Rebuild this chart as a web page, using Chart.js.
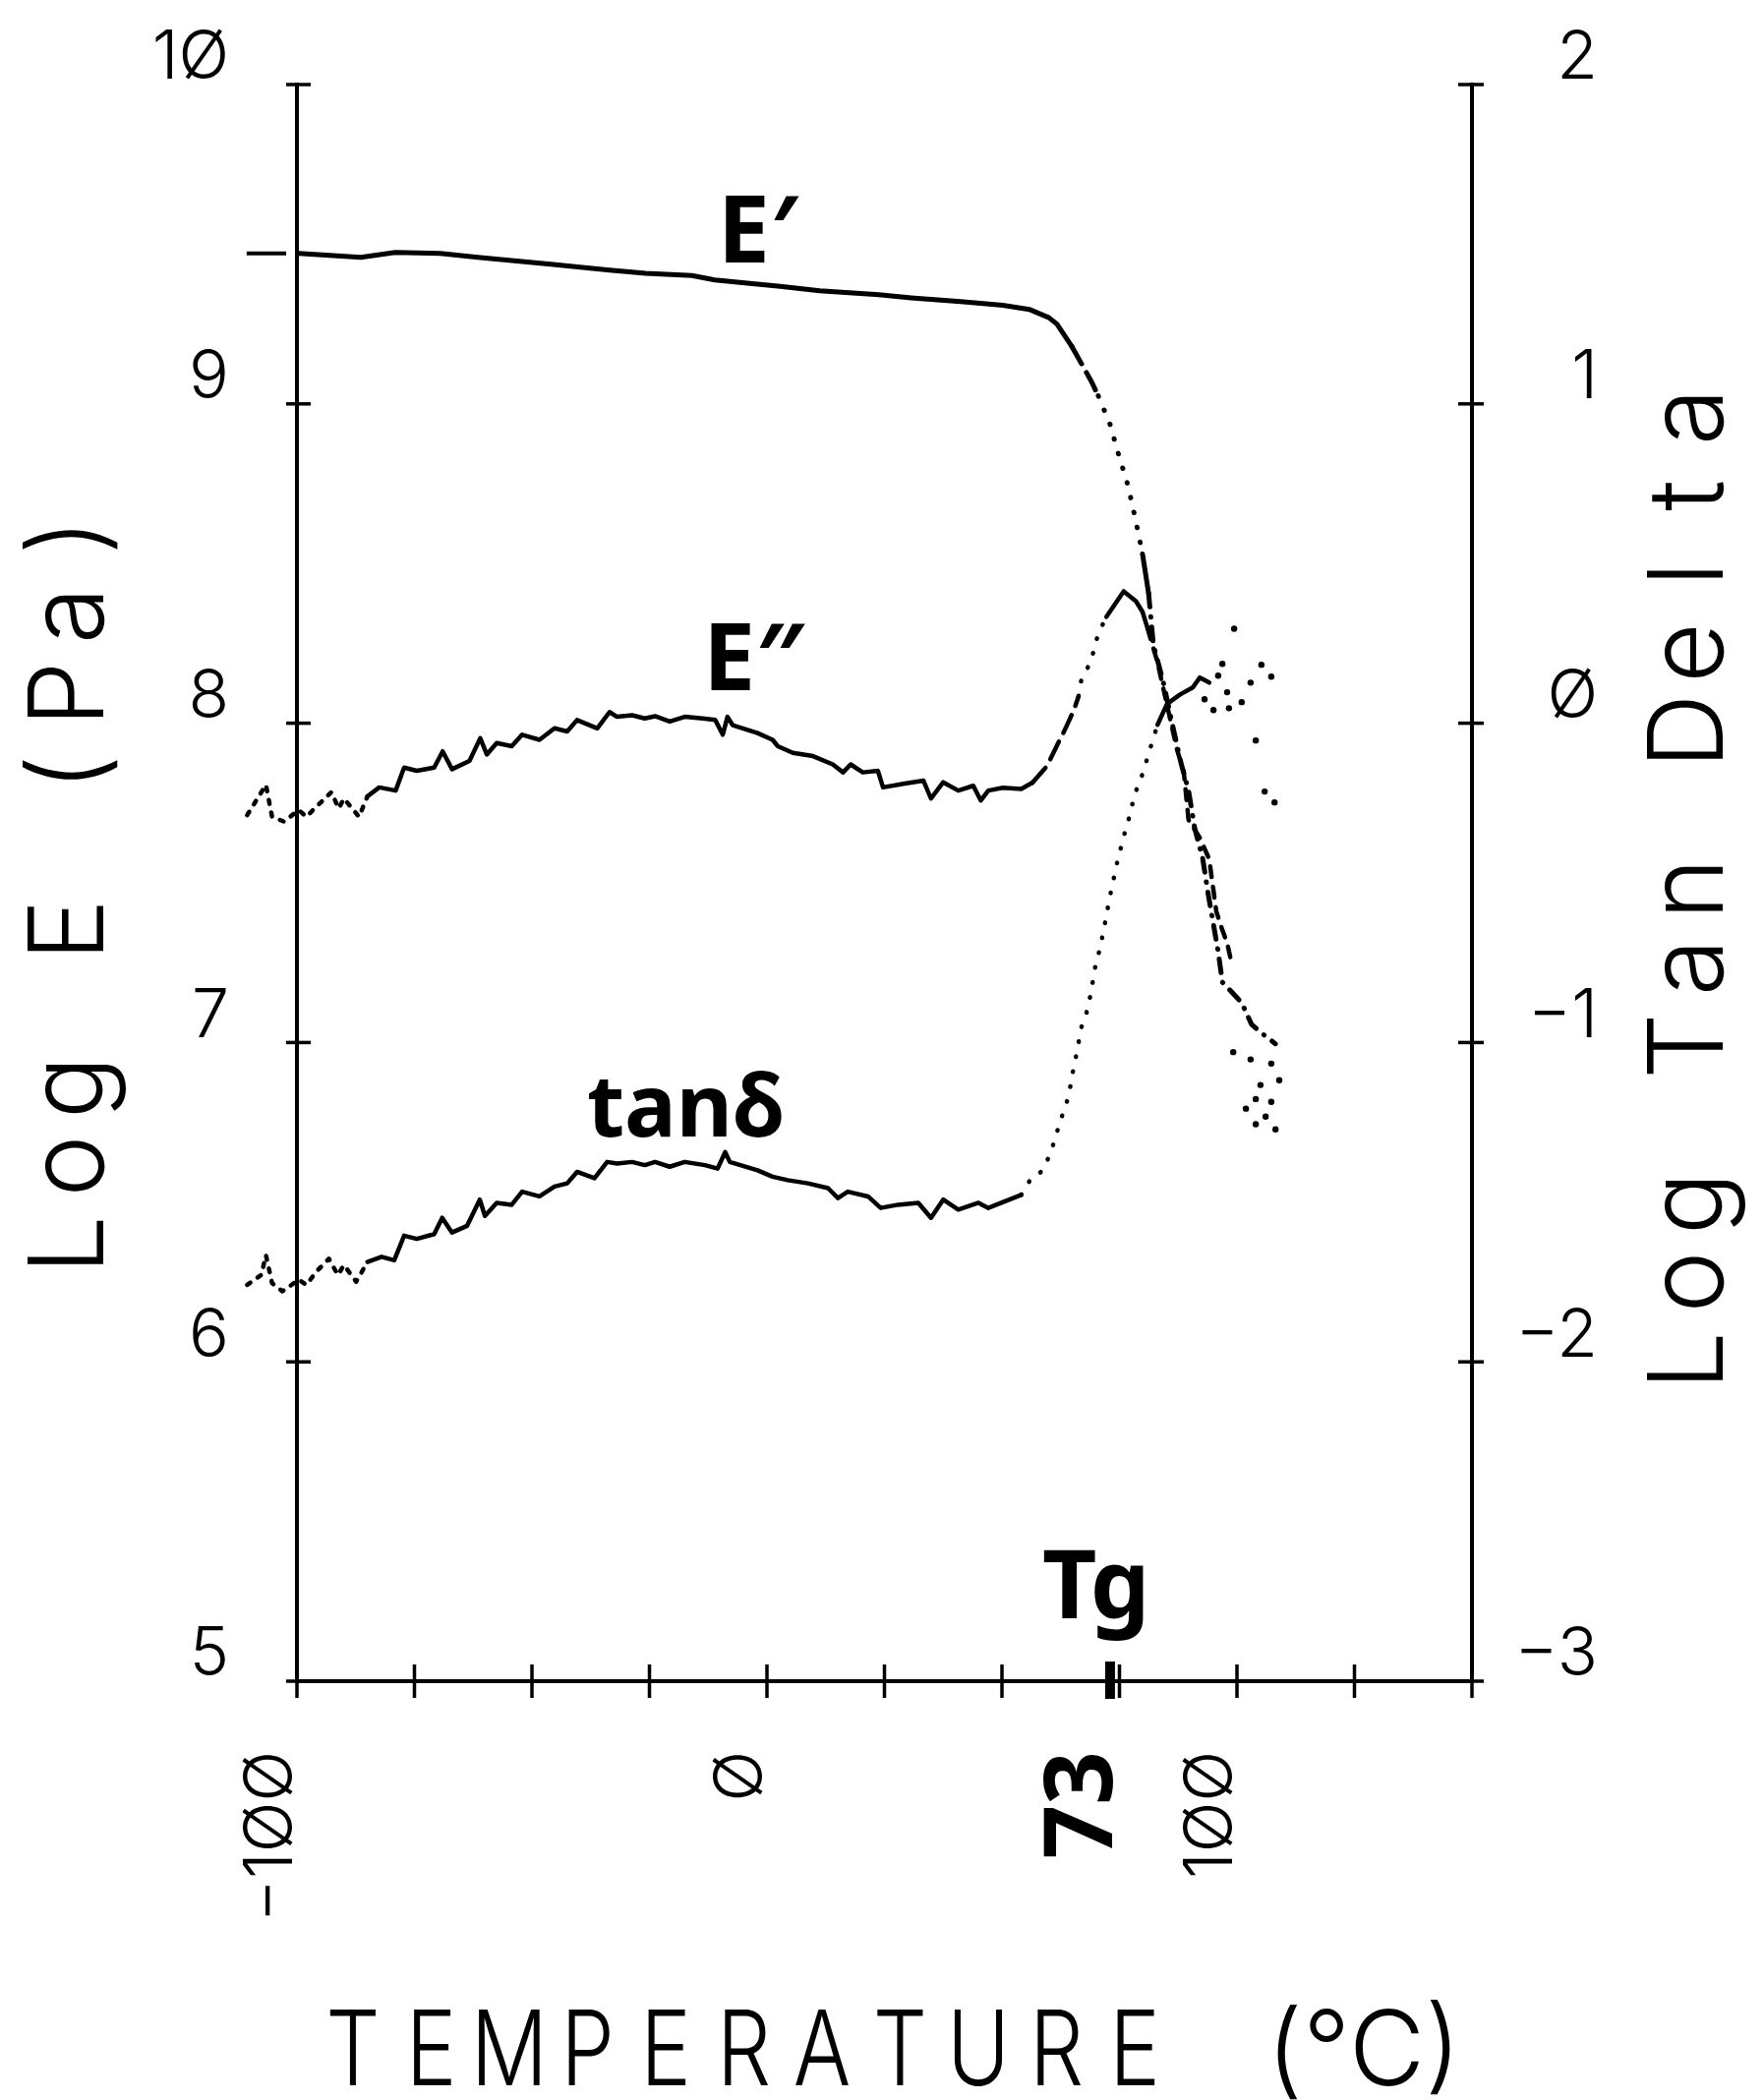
<!DOCTYPE html>
<html>
<head>
<meta charset="utf-8">
<script src="https://cdn.jsdelivr.net/npm/chart.js@4.4.1/dist/chart.umd.min.js"></script>
<style>
html,body{margin:0;padding:0;background:#fff;}
canvas{display:block;}
</style>
</head>
<body>
<canvas id="c" width="1794" height="2136"></canvas>
<script>
// ---------------- data ----------------
const xTickValues = [-100, -75, -50, -25, 0, 25, 50, 73, 75, 100, 125, 150];
const xTickLabels = {'-100': '−1ØØ', '0': 'Ø', '73': '73', '100': '1ØØ'};
const leftTickLabels = {'5': '5', '6': '6', '7': '7', '8': '8', '9': '9', '10': '1Ø'};
const rightTickLabels = {'-3': '−3', '-2': '−2', '-1': '−1', '0': 'Ø', '1': '1', '2': '2'};
const tgValue = 73;

// E' (log E', Pa)
const ePrimeT = [-99.6, -86.4, -79.1, -69.5, -61.5, -46.0, -33.5, -25.8, -16.0, -11.1, -4.2, 2.8, 11.2, 23.8, 30.7, 41.2, 50.2, 55.8, 60.0, 61.7, 64.9, 69.0, 70.5, 73.0, 74.7, 76.8, 78.5, 79.9, 81.2, 82.2, 84.3, 86.2, 88.1, 89.7, 91.0, 92.7, 93.9, 96.0, 96.9, 101.0, 103.1, 105.2, 108.2];
const ePrimeLogE = [9.471, 9.459, 9.474, 9.471, 9.459, 9.437, 9.419, 9.409, 9.402, 9.388, 9.378, 9.368, 9.354, 9.342, 9.332, 9.320, 9.309, 9.296, 9.270, 9.250, 9.179, 9.071, 9.025, 8.936, 8.847, 8.745, 8.632, 8.530, 8.407, 8.247, 8.130, 8.000, 7.875, 7.789, 7.672, 7.577, 7.463, 7.285, 7.189, 7.125, 7.057, 7.030, 6.996];
// short start marker left of the axis
const ePrimeMarkT = [-110.7, -102.3];
const ePrimeMarkLogE = [9.471, 9.471];

// E'' (log E'', Pa)
const eDoublePrimeT = [-110.6, -106.6, -105.3, -102.8, -99.6, -98.0, -95.9, -92.7, -91.1, -90.0, -86.8, -85.0, -82.5, -79.0, -77.2, -74.5, -70.8, -69.0, -67.0, -63.3, -61.0, -59.6, -57.5, -54.3, -52.1, -48.4, -45.2, -42.5, -40.4, -36.1, -33.5, -31.9, -28.7, -26.0, -23.8, -20.7, -17.5, -13.7, -11.0, -9.4, -8.4, -7.3, -2.0, 1.2, 2.3, 5.5, 9.8, 14.0, 16.2, 17.8, 20.4, 23.6, 24.7, 29.0, 33.3, 34.9, 37.5, 40.7, 43.9, 45.5, 47.1, 50.2, 54.1, 56.5, 59.6, 61.1, 63.4, 65.3, 66.3, 66.9, 69.0, 69.9, 70.9, 72.2, 75.9, 78.5, 79.9, 81.0, 83.1, 87.2, 88.7, 89.7, 92.1, 94.1, 95.6, 96.9, 97.9, 99.0];
const eDoublePrimeLogE = [7.712, 7.807, 7.707, 7.692, 7.728, 7.707, 7.738, 7.784, 7.733, 7.764, 7.707, 7.771, 7.799, 7.789, 7.861, 7.851, 7.861, 7.912, 7.856, 7.882, 7.953, 7.902, 7.938, 7.928, 7.964, 7.948, 7.984, 7.974, 8.010, 7.984, 8.035, 8.020, 8.025, 8.015, 8.022, 8.005, 8.020, 8.015, 8.010, 7.964, 8.020, 7.994, 7.969, 7.948, 7.928, 7.907, 7.897, 7.871, 7.846, 7.871, 7.846, 7.851, 7.799, 7.810, 7.820, 7.764, 7.815, 7.789, 7.804, 7.758, 7.789, 7.798, 7.794, 7.814, 7.866, 7.912, 7.980, 8.041, 8.084, 8.137, 8.195, 8.253, 8.293, 8.333, 8.413, 8.382, 8.349, 8.296, 8.190, 7.920, 7.845, 7.697, 7.641, 7.574, 7.411, 7.352, 7.312, 7.239];
// scattered end of E''
const eDoublePrimeTailT = [99.2, 101.9, 102.9, 104.0, 104.0, 105.0, 106.1, 107.3, 107.3, 108.2, 109.0];
const eDoublePrimeTailLogE = [6.970, 6.793, 6.947, 6.823, 6.744, 6.867, 6.768, 6.934, 6.814, 6.728, 6.882];

// log tan delta (right axis)
const tanDeltaT = [-110.6, -107.6, -106.6, -105.3, -103.1, -99.6, -98.0, -95.9, -93.2, -91.3, -90.0, -87.4, -85.0, -82.0, -79.3, -77.2, -74.5, -70.8, -69.1, -67.0, -63.8, -61.1, -60.0, -57.5, -54.3, -52.1, -48.4, -45.2, -42.5, -40.4, -36.7, -34.0, -31.9, -28.7, -26.0, -23.8, -20.7, -17.5, -13.2, -10.5, -8.9, -7.9, -2.0, 1.2, 4.4, 8.7, 13.0, 15.1, 17.2, 21.5, 24.2, 27.9, 32.2, 34.9, 37.5, 40.7, 45.0, 47.1, 54.1, 56.3, 57.5, 59.0, 61.1, 62.3, 63.4, 64.2, 64.9, 65.9, 66.9, 68.0, 68.8, 69.9, 70.9, 72.0, 72.8, 73.8, 74.7, 75.7, 76.6, 77.4, 78.0, 79.9, 82.0, 83.1, 85.1, 87.9, 90.6, 92.1, 94.1];
const tanDeltaLog = [-1.759, -1.728, -1.666, -1.753, -1.779, -1.743, -1.759, -1.718, -1.677, -1.728, -1.697, -1.749, -1.687, -1.671, -1.682, -1.605, -1.615, -1.600, -1.549, -1.595, -1.574, -1.492, -1.543, -1.502, -1.508, -1.467, -1.482, -1.451, -1.441, -1.405, -1.425, -1.374, -1.379, -1.374, -1.384, -1.374, -1.389, -1.374, -1.384, -1.395, -1.343, -1.374, -1.400, -1.420, -1.431, -1.441, -1.456, -1.487, -1.467, -1.482, -1.518, -1.508, -1.502, -1.549, -1.492, -1.523, -1.502, -1.518, -1.477, -1.423, -1.416, -1.395, -1.312, -1.250, -1.204, -1.167, -1.106, -1.032, -0.952, -0.906, -0.854, -0.758, -0.703, -0.620, -0.555, -0.485, -0.423, -0.368, -0.315, -0.282, -0.232, -0.159, -0.057, -0.005, 0.060, 0.090, 0.112, 0.143, 0.127];
// scattered peak / end of tan delta
const tanDeltaTailT = [93.1, 95.0, 96.0, 96.9, 97.9, 98.3, 99.4, 101.0, 102.9, 104.0, 105.2, 105.9, 107.3, 108.0];
const tanDeltaTailLog = [0.075, 0.041, 0.149, 0.186, 0.097, 0.047, 0.296, 0.066, 0.127, -0.054, 0.183, -0.214, 0.146, -0.248];

// ---------------- styles ----------------
const INK = '#000';
const plotFamily = 'Inter, Roboto, "DejaVu Sans", sans-serif';
const boldFamily = '"Noto Sans", "DejaVu Sans", sans-serif';
const tickFont = {family: plotFamily, size: 68, weight: '300'};
const tgTickFont = {family: boldFamily, size: 96, weight: 'bold'};

const SOLID = [], DASH = [20, 10], SHORTDASH = [11, 10], DOT = [0.5, 15], SPARSE = [4, 9], DASHDOT = [14, 10, 0.5, 10];

function rangeStyle(ranges) {
  return ctx => {
    const xm = (ctx.p0.parsed.x + ctx.p1.parsed.x) / 2;
    for (const r of ranges) { if (xm < r[0]) return r[1]; }
    return SOLID;
  };
}
const pts = (xs, ys) => xs.map((x, i) => ({x, y: ys[i]}));

const annotations = [
  {text: 'E′', t: -10.5, v: 9.443, size: 95},
  {text: 'E″', t: -13.6, v: 8.102, size: 95},
  {text: 'tanδ', t: -38.3, v: 6.705, size: 88},
  {text: 'Tg', t: 58.6, v: 5.197, size: 96}
];

function drawPitched(ctx, text, pitch, squeeze) {
  const n = text.length;
  for (let i = 0; i < n; i++) {
    const cx = (i - (n - 1) / 2) * pitch;
    ctx.save();
    ctx.translate(cx, 0);
    ctx.scale(squeeze, 1);
    ctx.textAlign = 'center';
    ctx.fillText(text[i], 0, 0);
    ctx.restore();
  }
}

const plotterPlugin = {
  id: 'plotter',
  afterDraw(chart) {
    const {ctx, chartArea: a} = chart;
    const x = chart.scales.x, y = chart.scales.y, y2 = chart.scales.y2;
    ctx.save();
    ctx.strokeStyle = INK; ctx.fillStyle = INK; ctx.lineCap = 'butt';
    const line = (x1, y1, x2, y2_) => { ctx.beginPath(); ctx.moveTo(x1, y1); ctx.lineTo(x2, y2_); ctx.stroke(); };
    // cross ticks on x axis
    ctx.lineWidth = 3.5;
    xTickValues.forEach(v => {
      if (v === tgValue) return;
      const px = x.getPixelForValue(v);
      line(px, a.bottom - 17, px, a.bottom + 17);
    });
    ctx.lineWidth = 10;
    const tg = x.getPixelForValue(tgValue);
    line(tg, a.bottom - 20, tg, a.bottom + 18);
    // cross ticks on y axes
    ctx.lineWidth = 3.5;
    y.ticks.forEach(t => { const py = y.getPixelForValue(t.value); line(a.left - 11, py, a.left + 14, py); });
    y2.ticks.forEach(t => { const py = y2.getPixelForValue(t.value); line(a.right - 14, py, a.right + 12, py); });

    // axis titles (plotter style, fixed pitch)
    const mid = (a.top + a.bottom) / 2;
    ctx.font = '300 106px ' + plotFamily;
    ctx.textBaseline = 'alphabetic';
    ctx.save(); ctx.translate(a.left - 197, mid + 8); ctx.rotate(-Math.PI / 2);
    drawPitched(ctx, 'Log E (Pa)', 80, 1); ctx.restore();
    ctx.save(); ctx.translate(a.right + 255, mid + 6); ctx.rotate(-Math.PI / 2);
    drawPitched(ctx, 'Log Tan Delta', 80, 1); ctx.restore();
    ctx.save(); ctx.translate(a.left + 57 + 5 * 79.5, a.bottom + 411);
    drawPitched(ctx, 'TEMPERATURE', 79.5, 0.82); ctx.restore();
    ctx.save(); ctx.textAlign = 'center';
    ctx.fillText('(°C)', a.left + 1085, a.bottom + 411); ctx.restore();

    // curve labels
    annotations.forEach(an => {
      ctx.font = 'bold ' + an.size + 'px ' + boldFamily;
      ctx.textAlign = 'left';
      ctx.fillText(an.text, x.getPixelForValue(an.t), y.getPixelForValue(an.v));
    });
    ctx.restore();
  }
};

const zeroPad = s => { s.paddingLeft = 0; s.paddingRight = 0; s.paddingTop = 0; s.paddingBottom = 0; };

new Chart(document.getElementById('c'), {
  type: 'line',
  data: {
    datasets: [
      {
        label: 'E′', data: pts(ePrimeT, ePrimeLogE), yAxisID: 'y',
        borderColor: INK, borderWidth: 5, borderCapStyle: 'round', borderJoinStyle: 'round',
        pointRadius: 0, tension: 0, clip: false,
        segment: {borderDash: rangeStyle([[64.9, SOLID], [70.0, DASH], [79.5, DOT], [80.6, SOLID], [Infinity, DASHDOT]])}
      },
      {
        label: 'E′ start', data: pts(ePrimeMarkT, ePrimeMarkLogE), yAxisID: 'y',
        borderColor: INK, borderWidth: 4, pointRadius: 0, clip: false
      },
      {
        label: 'E″', data: pts(eDoublePrimeT, eDoublePrimeLogE), yAxisID: 'y',
        borderColor: INK, borderWidth: 4.5, borderCapStyle: 'round', borderJoinStyle: 'round',
        pointRadius: 0, tension: 0, clip: false,
        segment: {borderDash: rangeStyle([[-84, SPARSE], [57, SOLID], [66.5, DASH], [71.6, DOT], [80.5, SOLID], [Infinity, SHORTDASH]])}
      },
      {
        label: 'E″ tail', data: pts(eDoublePrimeTailT, eDoublePrimeTailLogE), yAxisID: 'y',
        showLine: false, pointRadius: 3.2, pointBackgroundColor: INK, pointBorderWidth: 0, clip: false
      },
      {
        label: 'tan δ', data: pts(tanDeltaT, tanDeltaLog), yAxisID: 'y2',
        borderColor: INK, borderWidth: 4.5, borderCapStyle: 'round', borderJoinStyle: 'round',
        pointRadius: 0, tension: 0, clip: false,
        segment: {borderDash: rangeStyle([[-84, SPARSE], [55, SOLID], [82.6, DOT], [Infinity, SOLID]])}
      },
      {
        label: 'tan δ tail', data: pts(tanDeltaTailT, tanDeltaTailLog), yAxisID: 'y2',
        showLine: false, pointRadius: 3.2, pointBackgroundColor: INK, pointBorderWidth: 0, clip: false
      }
    ]
  },
  options: {
    responsive: false,
    animation: false,
    devicePixelRatio: 1,
    layout: {padding: {top: 86, right: 169, bottom: 0, left: 0}, autoPadding: false},
    plugins: {legend: {display: false}, tooltip: {enabled: false}},
    scales: {
      x: {
        type: 'linear', position: 'bottom', bounds: 'data',
        afterDataLimits: s => { s.min = xTickValues[0]; s.max = xTickValues[xTickValues.length - 1]; },
        afterBuildTicks: s => { s.ticks = xTickValues.map(v => ({value: v})); },
        afterFit: s => { s.height = 426; zeroPad(s); },
        grid: {display: true, drawOnChartArea: false, drawTicks: false},
        border: {display: true, color: INK, width: 4},
        ticks: {
          autoSkip: false, minRotation: 90, maxRotation: 90, padding: 71, labelOffset: -25,
          color: INK,
          font: c => (c.tick && c.tick.value === tgValue) ? tgTickFont : tickFont,
          callback: v => xTickLabels[String(v)] || ''
        }
      },
      y: {
        type: 'linear', position: 'left', min: 5, max: 10,
        afterFit: s => { s.width = 302; zeroPad(s); },
        grid: {display: true, drawOnChartArea: false, drawTicks: false},
        border: {display: true, color: INK, width: 4},
        ticks: {stepSize: 1, padding: 69, labelOffset: -26, color: INK, font: tickFont,
          callback: v => leftTickLabels[String(v)] || ''}
      },
      y2: {
        type: 'linear', position: 'right', min: -3, max: 2,
        afterFit: s => { s.width = 128; zeroPad(s); },
        grid: {display: true, drawOnChartArea: false, drawTicks: false},
        border: {display: true, color: INK, width: 4},
        ticks: {stepSize: 1, crossAlign: 'far', labelOffset: -26, color: INK, font: tickFont,
          callback: v => rightTickLabels[String(v)] || ''}
      }
    }
  },
  plugins: [plotterPlugin]
});
</script>
</body>
</html>
